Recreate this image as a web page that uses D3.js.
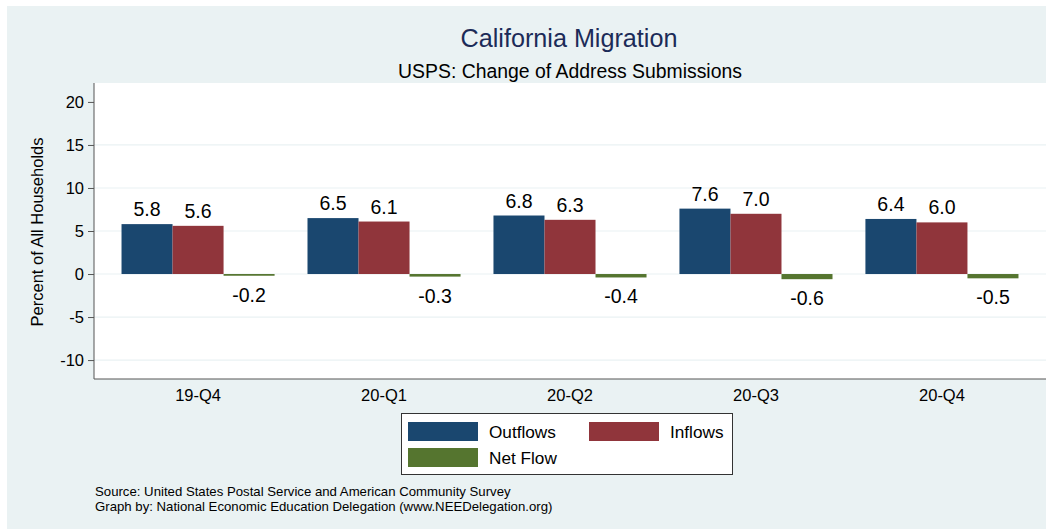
<!DOCTYPE html>
<html>
<head>
<meta charset="utf-8">
<script src="https://cdn.jsdelivr.net/npm/d3@7"></script>
<style>
  body { margin: 0; background: #fff; }
  text { font-family: "Liberation Sans", Arial, Helvetica, sans-serif; }
</style>
</head>
<body>
<div id="graf"></div>
<script>
// data
quarters = ["19-Q4", "20-Q1", "20-Q2", "20-Q3", "20-Q4"]
series = ["Outflows", "Inflows", "Net Flow"]
outflows = [5.8, 6.5, 6.8, 7.6, 6.4]
inflows = [5.6, 6.1, 6.3, 7.0, 6.0]
netflow = [-0.2, -0.3, -0.4, -0.6, -0.5]
yTicks = [-10, -5, 0, 5, 10, 15, 20]
gridTicks = [-10, -5, 0, 5, 10, 15]
colores = ["#1a476f", "#90353b", "#55752f"]

function render(){

var svg = d3.select('#graf')
            .append('svg')
            .attr('width', 1048)
            .attr('height', 529)

// background
svg.append("rect")
  .attr("x", 7).attr("y", 6)
  .attr("width", 1039).attr("height", 523)
  .attr("fill", "#eaf2f3")

var left = 94, right = 1046, top = 83, bottom = 379

svg.append("rect")
  .attr("x", left).attr("y", top)
  .attr("width", right - left).attr("height", bottom - top)
  .attr("fill", "#fff")

var x = d3.scaleBand()
          .domain(quarters)
          .range([left, right])
          .paddingInner(0.177)
          .paddingOuter(0.148)

var xs = d3.scaleBand()
          .domain(series)
          .range([0, x.bandwidth()])

var y = d3.scaleLinear()
          .domain([-12.2, 22.2])
          .range([bottom, top])

// grid lines
svg.append("g")
  .selectAll("line")
  .data(gridTicks)
  .join("line")
  .attr("x1", left).attr("x2", right)
  .attr("y1", d => y(d)).attr("y2", d => y(d))
  .attr("stroke", "#eaf2f3")
  .attr("stroke-width", 1.2)

var rows = quarters.map((q, i) => ({
  q: q,
  vals: [outflows[i], inflows[i], netflow[i]]
}))

var grupos = svg.append("g")
  .selectAll("g")
  .data(rows)
  .join("g")
  .attr("transform", d => "translate(" + x(d.q) + ",0)")

grupos.selectAll("rect")
  .data(d => d.vals.map((v, j) => ({ s: series[j], v: v, c: colores[j] })))
  .join("rect")
  .attr("x", d => xs(d.s))
  .attr("width", xs.bandwidth())
  .attr("y", d => y(Math.max(0, d.v)))
  .attr("height", d => Math.abs(y(d.v) - y(0)))
  .attr("fill", d => d.c)

grupos.selectAll("text")
  .data(d => d.vals.map((v, j) => ({ s: series[j], v: v })))
  .join("text")
  .attr("x", d => xs(d.s) + xs.bandwidth() / 2)
  .attr("y", d => d.v >= 0 ? y(d.v) - 8 : y(d.v) + 26)
  .attr("text-anchor", "middle")
  .attr("font-size", 19.5)
  .attr("fill", "#000")
  .text(d => d.v.toFixed(1))

// y axis (plain hyphen for negatives, like the original)
var yAxis = svg.append("g")
  .attr("transform", "translate(" + left + ",0)")
  .call(d3.axisLeft(y).tickValues(yTicks).tickSize(6).tickPadding(4)
          .tickFormat(d => String(d)))
yAxis.select(".domain").attr("stroke", "#555").attr("d", "M0," + top + "V" + bottom)
yAxis.selectAll(".tick line").attr("stroke", "#555")
yAxis.selectAll("text").attr("font-size", 16.5).attr("fill", "#000")
  .attr("font-family", "Liberation Sans, Arial, sans-serif")

// x axis
var xAxis = svg.append("g")
  .attr("transform", "translate(0," + bottom + ")")
  .call(d3.axisBottom(x).tickSize(0).tickPadding(10))
xAxis.select(".domain").attr("stroke", "#555").attr("d", "M" + left + ",0H" + right)
xAxis.selectAll("text").attr("font-size", 16.5).attr("fill", "#000")
  .attr("font-family", "Liberation Sans, Arial, sans-serif")

// axis title
svg.append("text")
  .attr("transform", "translate(43,232) rotate(-90)")
  .attr("text-anchor", "middle")
  .attr("font-size", 16.5)
  .text("Percent of All Households")

// titles
svg.append("text")
  .attr("x", 569).attr("y", 47)
  .attr("text-anchor", "middle")
  .attr("font-size", 25.2)
  .attr("fill", "#1c2b58")
  .text("California Migration")

svg.append("text")
  .attr("x", 570).attr("y", 78)
  .attr("text-anchor", "middle")
  .attr("font-size", 19.4)
  .text("USPS: Change of Address Submissions")

// legend
var leg = svg.append("g")
leg.append("rect")
  .attr("x", 401.5).attr("y", 413.5)
  .attr("width", 331).attr("height", 61)
  .attr("fill", "#fff")
  .attr("stroke", "#333")
  .attr("stroke-width", 1)

var legPos = [[408, 422], [589, 422], [408, 448]]
series.forEach((s, j) => {
  leg.append("rect")
    .attr("x", legPos[j][0]).attr("y", legPos[j][1])
    .attr("width", 70).attr("height", 19)
    .attr("fill", colores[j])
  leg.append("text")
    .attr("x", legPos[j][0] + 81).attr("y", legPos[j][1] + 16)
    .attr("font-size", 17.2)
    .text(s)
})

// notes
svg.append("text")
  .attr("x", 95).attr("y", 496)
  .attr("font-size", 13.2)
  .text("Source: United States Postal Service and American Community Survey")
svg.append("text")
  .attr("x", 95).attr("y", 511)
  .attr("font-size", 13.2)
  .text("Graph by: National Economic Education Delegation (www.NEEDelegation.org)")
}

render()
</script>
</body>
</html>
